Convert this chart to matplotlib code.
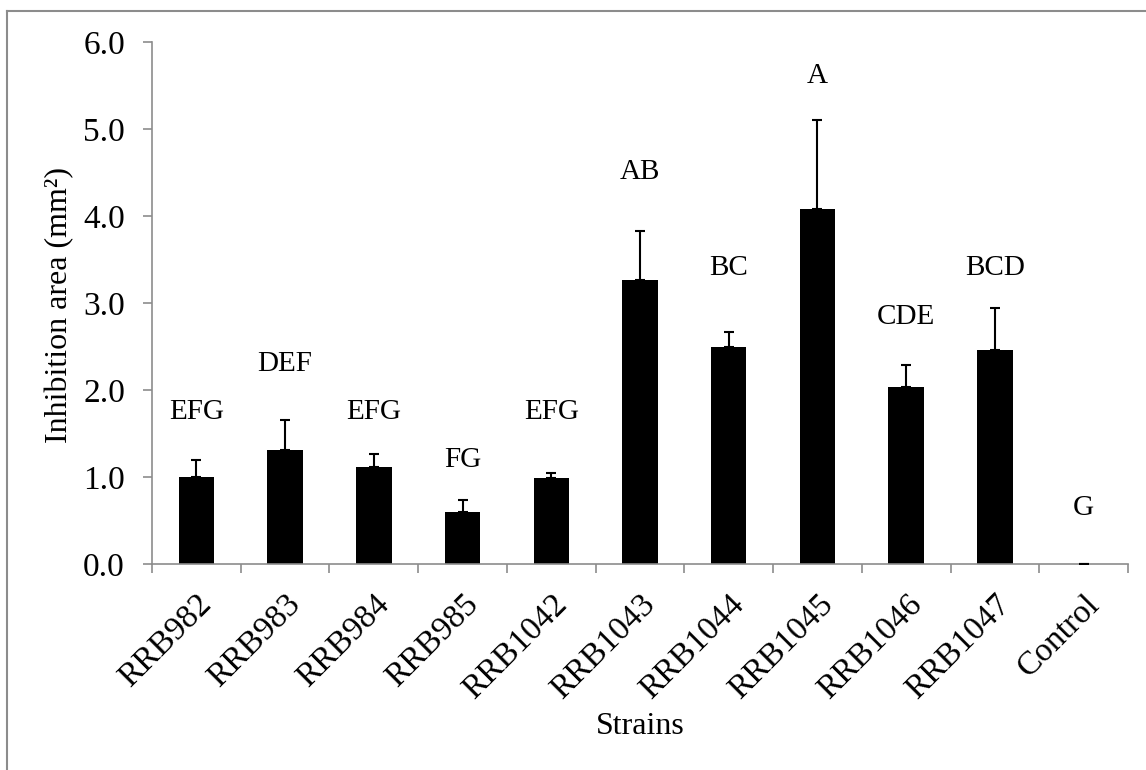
import matplotlib

matplotlib.use("Agg")
import matplotlib.pyplot as plt
from matplotlib.lines import Line2D

# Values
strains = ["RRB982", "RRB983", "RRB984", "RRB985", "RRB1042", "RRB1043",
           "RRB1044", "RRB1045", "RRB1046", "RRB1047", "Control"]
means = [1.00, 1.31, 1.11, 0.60, 0.99, 3.27, 2.50, 4.08, 2.03, 2.46, 0.0]
errors = [0.19, 0.34, 0.16, 0.13, 0.06, 0.56, 0.17, 1.02, 0.26, 0.48, 0.0]
groups = ["EFG", "DEF", "EFG", "FG", "EFG", "AB", "BC", "A", "CDE", "BCD", "G"]
group_y = [1.75, 2.30, 1.75, 1.20, 1.75, 4.51, 3.40, 5.61, 2.84, 3.40, 0.64]

plt.rcParams["font.family"] = ["Liberation Serif", "DejaVu Serif"]
grey = "#8c8c8c"

fig = plt.figure(figsize=(11.46, 7.70), dpi=100)
ax = fig.add_axes([152 / 1146, 1 - 564 / 770, 976 / 1146, 522 / 770])

x = list(range(len(strains)))
ax.bar(x, means, width=0.4, color="black", zorder=2)
ax.errorbar(x, means, yerr=[[0] * len(errors), errors], fmt="none",
            ecolor="black", elinewidth=1.5, capsize=3.8, capthick=1.5, zorder=3)

for xi, g, gy in zip(x, groups, group_y):
    ax.text(xi, gy, g, ha="center", va="center", fontsize=21)

ax.set_xlim(-0.5, len(strains) - 0.5)
ax.set_ylim(0, 6)
ax.set_yticks([0, 1, 2, 3, 4, 5, 6])
ax.set_yticklabels([f"{v:.1f}" for v in range(7)], fontsize=24)

# category ticks sit between bars, as in Excel
ax.set_xticks([i - 0.5 for i in range(len(strains) + 1)])
ax.set_xticklabels([])
ax.set_xticks(x, minor=True)
ax.set_xticklabels(strains, minor=True, rotation=45, ha="right", va="top",
                   rotation_mode="anchor", fontsize=24)
ax.tick_params(axis="x", which="minor", length=0, pad=18)
ax.tick_params(axis="both", which="major", direction="out", length=6.5,
               width=1.2, color=grey)
ax.tick_params(axis="y", pad=13)

for side in ("top", "right"):
    ax.spines[side].set_visible(False)
for side in ("left", "bottom"):
    ax.spines[side].set_color(grey)
    ax.spines[side].set_linewidth(1.2)

ax.set_ylabel("Inhibition area (mm²)", fontsize=23)
ax.yaxis.set_label_coords((60 - 152) / 976, (564 - 305) / 522)
ax.set_xlabel("Strains", fontsize=23)
ax.xaxis.set_label_coords(0.5, (564 - 727) / 522)
ax.xaxis.label.set_va("center")
ax.yaxis.label.set_va("center")

# chart-area border (only left and top visible in the reference)
fig.add_artist(Line2D([7 / 1146, 7 / 1146], [0, 1 - 11 / 770],
                      transform=fig.transFigure, color=grey, lw=1.5))
fig.add_artist(Line2D([7 / 1146, 1], [1 - 11 / 770, 1 - 11 / 770],
                      transform=fig.transFigure, color=grey, lw=1.5))

fig.savefig("out.png", dpi=100)
